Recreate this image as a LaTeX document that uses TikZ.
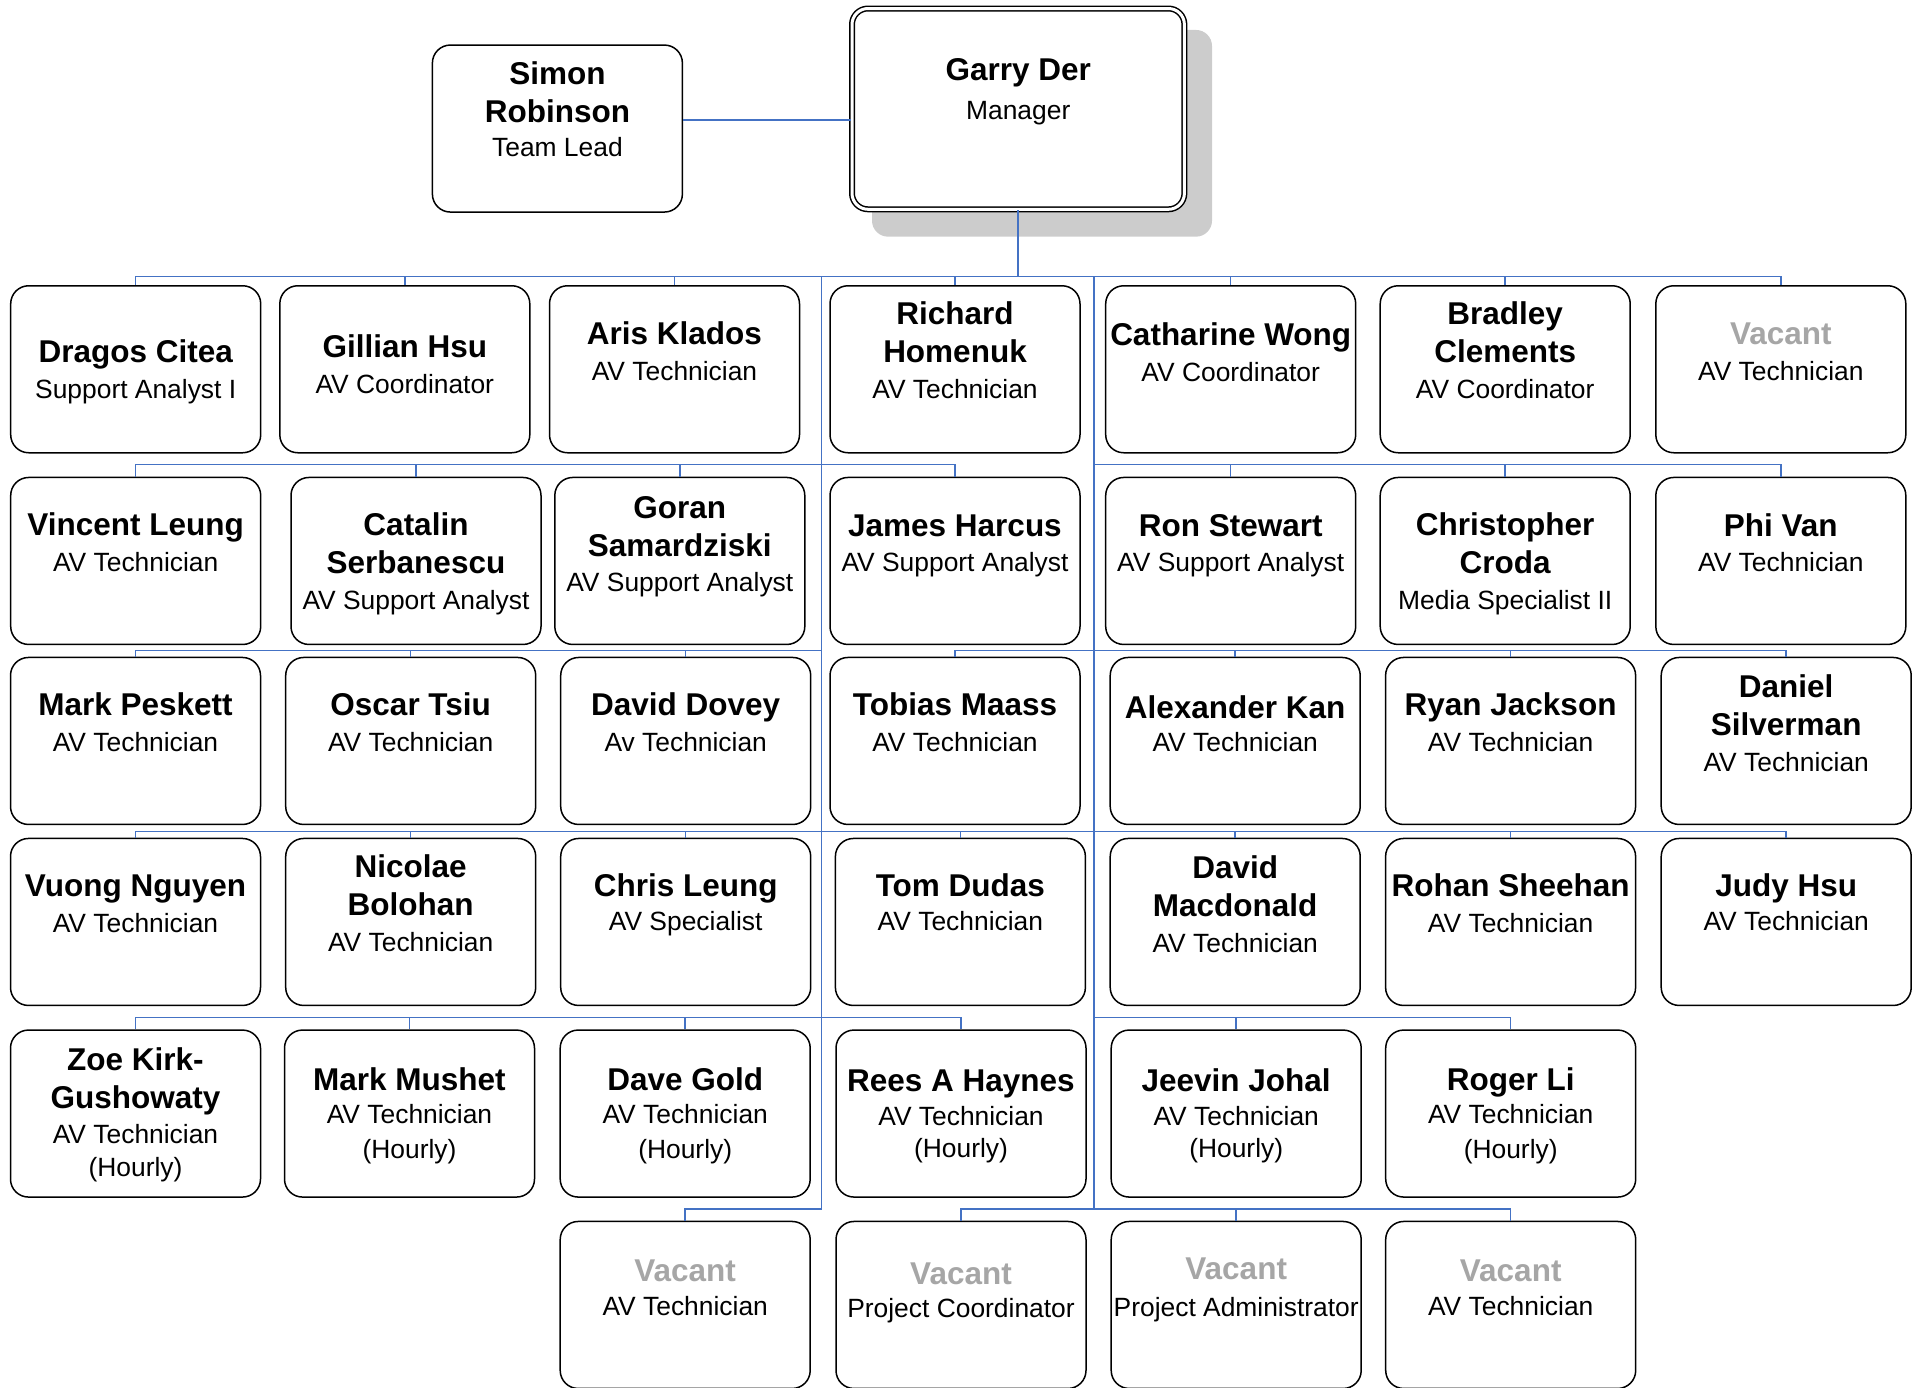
\documentclass[tikz,border=0pt]{standalone}
\usepackage{fontspec}
\setmainfont{Liberation Sans}
\definecolor{cblue}{RGB}{68,114,196}
\definecolor{vacgray}{RGB}{166,166,166}
\definecolor{shadowgray}{RGB}{204,204,204}
\newcommand\nm[1]{{\fontsize{31.5}{38}\selectfont\bfseries #1}}
\newcommand\vac{\nm{\color{vacgray}Vacant}}
\newcommand\pb[5]{%
  \node[box,anchor=north] (#1) at (#2,#3) {};
  \node[txt] (#1t) at (#2,{#3+#4-26.6}) {\strut #5};
}
\begin{document}
\begin{tikzpicture}[x=1pt,y=-1pt,
  box/.style={draw,line width=1.5pt,rounded corners=18pt,minimum width=250pt,minimum height=167pt,inner sep=0pt,fill=white},
  txt/.style={anchor=north,inner sep=0pt,align=center,font=\fontsize{26.4}{38}\selectfont},
  conn/.style={draw=cblue,line width=1.5pt},
  gbox/.style={draw,double,double distance=3pt,line width=1.5pt,rounded corners=16pt,minimum width=332.4pt,minimum height=200.8pt,inner sep=0pt,fill=white},
  shadowbox/.style={fill=shadowgray,rounded corners=16pt,minimum width=340pt,minimum height=206.7pt,inner sep=0pt}]
\useasboundingbox (0,0) rectangle (1921,1387);
\clip (0,0) rectangle (1921,1387);

% row bus levels and trunks
\coordinate (r1) at (0,276.7);
\coordinate (r2) at (0,464.7);
\coordinate (r3) at (0,650.7);
\coordinate (r4) at (0,831.7);
\coordinate (r5) at (0,1017.7);
\coordinate (r6) at (0,1209);
\coordinate (jl) at (821.3,276.7);
\coordinate (jr) at (1094,276.7);
\coordinate (sg) at (0,120);

% top
\node[shadowbox] (gshadow) at (1042,133.3) {};
\node[gbox] (garry) at (1018.2,108.9) {};
\node[txt] (garryt) at (1018.2,53.4) {\strut\nm{Garry Der}\\[1pt]Manager};
\pb{simon}{557.4}{44.3}{40.2}{\nm{Simon}\\\nm{Robinson}\\[-4pt]Team Lead}

% row 1
\pb{c11}{135.7}{285}{77.6}{\nm{Dragos Citea}\\[-2pt]Support Analyst I}
\pb{c12}{404.8}{285}{72.7}{\nm{Gillian Hsu}\\[-2pt]AV Coordinator}
\pb{c13}{674.5}{285}{59.2}{\nm{Aris Klados}\\[-2pt]AV Technician}
\pb{c14}{955}{285}{39.6}{\nm{Richard}\\\nm{Homenuk}\\[-2pt]AV Technician}
\pb{c15}{1230.7}{285}{60.5}{\nm{Catharine Wong}\\[-2pt]AV Coordinator}
\pb{c16}{1505.2}{285}{39.6}{\nm{Bradley}\\\nm{Clements}\\[-2pt]AV Coordinator}
\pb{c17}{1780.8}{285}{59.2}{\vac\\[-2pt]AV Technician}

% row 2
\pb{c21}{135.7}{476.7}{58.6}{\nm{Vincent Leung}\\[-2pt]AV Technician}
\pb{c22}{416}{476.7}{58.6}{\nm{Catalin}\\\nm{Serbanescu}\\[-2pt]AV Support Analyst}
\pb{c23}{679.8}{476.7}{41.5}{\nm{Goran}\\\nm{Samardziski}\\[-3pt]AV Support Analyst}
\pb{c24}{955}{476.7}{59.9}{\nm{James Harcus}\\[-3pt]AV Support Analyst}
\pb{c25}{1230.7}{476.7}{59.9}{\nm{Ron Stewart}\\[-3pt]AV Support Analyst}
\pb{c26}{1505.2}{476.7}{58.6}{\nm{Christopher}\\\nm{Croda}\\[-2pt]Media Specialist II}
\pb{c27}{1780.8}{476.7}{59.9}{\nm{Phi Van}\\[-3pt]AV Technician}

% row 3
\pb{c31}{135.5}{656.7}{58.7}{\nm{Mark Peskett}\\[-2pt]AV Technician}
\pb{c32}{410.7}{656.7}{58.7}{\nm{Oscar Tsiu}\\[-2pt]AV Technician}
\pb{c33}{685.7}{656.7}{58.7}{\nm{David Dovey}\\[-2pt]Av Technician}
\pb{c34}{955}{656.7}{58.7}{\nm{Tobias Maass}\\[-2pt]AV Technician}
\pb{c35}{1235.2}{656.7}{61.2}{\nm{Alexander Kan}\\[-5pt]AV Technician}
\pb{c36}{1510.6}{656.7}{58.7}{\nm{Ryan Jackson}\\[-2pt]AV Technician}
\pb{c37}{1786.2}{656.7}{40.3}{\nm{Daniel}\\\nm{Silverman}\\[-2pt]AV Technician}

% row 4
\pb{c41}{135.5}{837.7}{59}{\nm{Vuong Nguyen}\\[-2pt]AV Technician}
\pb{c42}{410.7}{837.7}{39.4}{\nm{Nicolae}\\\nm{Bolohan}\\[-2pt]AV Technician}
\pb{c43}{685.7}{837.7}{59}{\nm{Chris Leung}\\[-4pt]AV Specialist}
\pb{c44}{960.4}{837.7}{59}{\nm{Tom Dudas}\\[-4pt]AV Technician}
\pb{c45}{1235.2}{837.7}{40.7}{\nm{David}\\\nm{Macdonald}\\[-2pt]AV Technician}
\pb{c46}{1510.6}{837.7}{59}{\nm{Rohan Sheehan}\\[-2pt]AV Technician}
\pb{c47}{1786.2}{837.7}{59}{\nm{Judy Hsu}\\[-4pt]AV Technician}

% row 5
\pb{c51}{135.5}{1029.3}{41.4}{\nm{Zoe Kirk-}\\\nm{Gushowaty}\\[-3pt]AV Technician\\[-5pt](Hourly)}
\pb{c52}{409.5}{1029.3}{61}{\nm{Mark Mushet}\\[-5pt]AV Technician\\[-3pt](Hourly)}
\pb{c53}{685.2}{1029.3}{61}{\nm{Dave Gold}\\[-5pt]AV Technician\\[-3pt](Hourly)}
\pb{c54}{961}{1029.3}{62.2}{\nm{Rees A Haynes}\\[-4pt]AV Technician\\[-6pt](Hourly)}
\pb{c55}{1236.2}{1029.3}{62.2}{\nm{Jeevin Johal}\\[-4pt]AV Technician\\[-6pt](Hourly)}
\pb{c56}{1510.7}{1029.3}{61}{\nm{Roger Li}\\[-5pt]AV Technician\\[-3pt](Hourly)}

% row 6
\pb{c63}{685.2}{1220.7}{60.7}{\vac\\[-4pt]AV Technician}
\pb{c64}{961}{1220.7}{63.2}{\vac\\[-5pt]Project Coordinator}
\pb{c65}{1236.2}{1220.7}{58.3}{\vac\\[-1pt]Project Administrator}
\pb{c66}{1510.7}{1220.7}{60.7}{\vac\\[-4pt]AV Technician}

% connectors
\draw[conn] (simon.east |- sg) -- (garry.west |- sg);
\foreach \c in {c11,c12,c13,c14,c15,c16,c17}
  \draw[conn] (garry.south) |- (\c.north |- r1) -- (\c.north);
\foreach \c/\r in {c21/r2,c22/r2,c23/r2,c24/r2,
                   c31/r3,c32/r3,c33/r3,
                   c41/r4,c42/r4,c43/r4,c44/r4,
                   c51/r5,c52/r5,c53/r5,c54/r5,
                   c63/r6}
  \draw[conn] (garry.south) |- (jl) |- (\c.north |- \r) -- (\c.north);
\foreach \c/\r in {c25/r2,c26/r2,c27/r2,
                   c34/r3,c35/r3,c36/r3,c37/r3,
                   c44/r4,c45/r4,c46/r4,c47/r4,
                   c55/r5,c56/r5,
                   c64/r6,c65/r6,c66/r6}
  \draw[conn] (garry.south) |- (jr) |- (\c.north |- \r) -- (\c.north);
\end{tikzpicture}
\end{document}
